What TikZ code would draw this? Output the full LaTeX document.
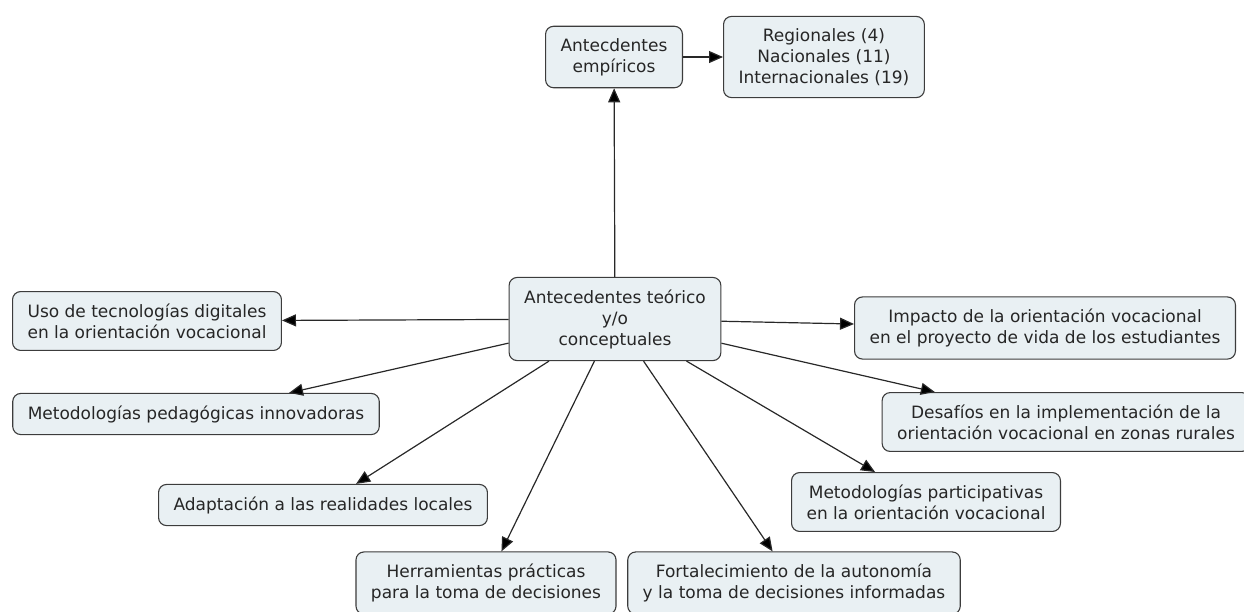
\documentclass[tikz,border=0pt]{standalone}
\usepackage{fontspec}
\setmainfont{DejaVu Sans}
\usetikzlibrary{arrows.meta,positioning}

\definecolor{conceptfill}{RGB}{233,240,243}
\definecolor{conceptline}{RGB}{60,60,60}
\definecolor{linkline}{RGB}{40,40,40}

\begin{document}
\begin{tikzpicture}[x=1pt,y=-1pt,>={Triangle[length=14pt,width=12pt]},
    concept/.style={draw=conceptline,line width=1.1pt,fill=conceptfill,rounded corners=8pt,
        align=center,inner xsep=15pt,inner ysep=12pt,text=black!85,
        font=\fontsize{17}{21}\selectfont},
    link/.style={->,draw=linkline,line width=1.2pt}]

                \useasboundingbox (0,0) rectangle (1244,611);

                \node[concept] (cen) at (615,319) {Antecedentes teórico\\y/o\\conceptuales};

                \node[concept] (emp) at (614,57) {Antecdentes\\empíricos};

                \node[concept] (reg) [right=40pt of emp] {Regionales (4)\\Nacionales (11)\\Internacionales (19)};

                \node[concept] (uso) at (147,321) {Uso de tecnologías digitales\\en la orientación vocacional};

                \node[concept] (imp) at (1045,328) {Impacto de la orientación vocacional\\en el proyecto de vida de los estudiantes};

                \node[concept] (ped) at (196,414) {Metodologías pedagógicas innovadoras};

                \node[concept] (des) at (1066,422) {Desafíos en la implementación de la\\orientación vocacional en zonas rurales};

                \node[concept] (ada) at (323,505) {Adaptación a las realidades locales};

                \node[concept] (par) at (926,502) {Metodologías participativas\\en la orientación vocacional};

                \node[concept] (her) at (486,583) {Herramientas prácticas\\para la toma de decisiones};

                \node[concept] (fort) at (794,583) {Fortalecimiento de la autonomía\\y la toma de decisiones informadas};

                

                \path[link] (cen) edge (emp)

                                  edge (uso)

                                  edge (imp)

                                  edge (ped)

                                  edge (des)

                                  edge (ada)

                                  edge (par)

                                  edge (her)

                                  edge (fort)

                            (emp) edge (reg);

            \end{tikzpicture}
\end{document}
